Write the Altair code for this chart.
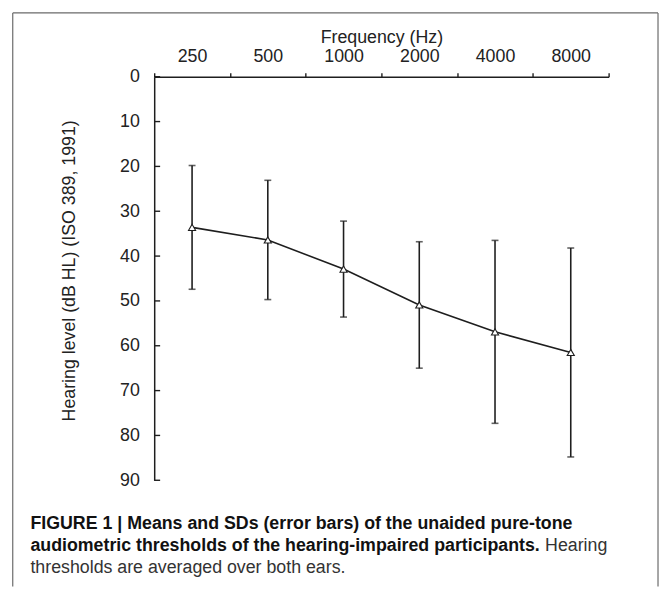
import altair as alt
import pandas as pd

# ---- data ----
freqs = ["250", "500", "1000", "2000", "4000", "8000"]
means = [33.6, 36.4, 42.9, 50.9, 56.9, 61.5]
sds = [13.8, 13.3, 10.7, 14.1, 20.4, 23.3]
y_tick_values = [0, 10, 20, 30, 40, 50, 60, 70, 80, 90]

x_title = "Frequency (Hz)"
y_title = "Hearing level (dB HL) (ISO 389, 1991)"
caption_bold_1 = "FIGURE 1 | Means and SDs (error bars) of the unaided pure-tone"
caption_bold_2 = "audiometric thresholds of the hearing-impaired participants."
caption_reg_2 = "Hearing"
caption_reg_3 = "thresholds are averaged over both ears."

df = pd.DataFrame({"freq": freqs, "mean": means, "sd": sds})
df["lo"] = df["mean"] - df["sd"]
df["hi"] = df["mean"] + df["sd"]
ticks_df = pd.DataFrame({"v": y_tick_values})
one = pd.DataFrame({"k": [0]})

INK = "#1e1e1e"
FONT = "Liberation Sans"
X_RANGE = [148, 608]
Y_RANGE = [66, 474.5]

x_enc = alt.X(
    "freq:N",
    sort=freqs,
    scale=alt.Scale(type="band", range=X_RANGE, paddingInner=0, paddingOuter=0),
    axis=alt.Axis(
        orient="top", offset=-66, title=x_title, tickBand="extent",
        tickSize=4, labelPadding=11, labelBaseline="alphabetic", labelAngle=0,
        titleY=-34.5, titleBaseline="alphabetic", titleFontWeight="normal",
        grid=False,
    ),
)
y_scale = alt.Scale(domain=[0, 90], range=Y_RANGE, nice=False, zero=False)
y_axis = alt.Axis(
    orient="left", offset=-148, values=y_tick_values, ticks=False,
    labelPadding=15, title=y_title, titleX=-86, titleY=262, titleAngle=270,
    titleAlign="center", titleBaseline="middle", titleFontWeight="normal",
    grid=False,
)

base = alt.Chart(df)
bars = base.mark_rule(color=INK, strokeWidth=1.6).encode(
    x=x_enc, y=alt.Y("lo:Q", scale=y_scale, axis=y_axis), y2="hi:Q"
)
cap_lo = base.mark_tick(color=INK, size=7, thickness=1.6, orient="horizontal").encode(
    x=x_enc, y=alt.Y("lo:Q", scale=y_scale, axis=y_axis)
)
cap_hi = base.mark_tick(color=INK, size=7, thickness=1.6, orient="horizontal").encode(
    x=x_enc, y=alt.Y("hi:Q", scale=y_scale, axis=y_axis)
)
line = base.mark_line(color=INK, strokeWidth=1.6).encode(
    x=x_enc, y=alt.Y("mean:Q", scale=y_scale, axis=y_axis)
)
pts = base.mark_point(
    shape="triangle-up", filled=True, fill="white", stroke=INK,
    strokeWidth=1.1, size=52, opacity=1,
).encode(x=x_enc, y=alt.Y("mean:Q", scale=y_scale, axis=y_axis))

# inward tick marks of the y axis
yticks = alt.Chart(ticks_df).mark_rule(color=INK, strokeWidth=1.4).encode(
    y=alt.Y("v:Q", scale=y_scale, axis=y_axis),
    x=alt.value(148), x2=alt.value(154),
)

# figure frame (left, top, right)
FRAME = "#6a6a6a"
f_left = alt.Chart(one).mark_rule(color=FRAME, strokeWidth=1.2).encode(
    x=alt.value(4.8), y=alt.value(1.4), y2=alt.value(582)
)
f_top = alt.Chart(one).mark_rule(color=FRAME, strokeWidth=1.2).encode(
    x=alt.value(4.8), x2=alt.value(658), y=alt.value(1.4)
)
f_right = alt.Chart(one).mark_rule(color=FRAME, strokeWidth=1.2).encode(
    x=alt.value(658), y=alt.value(1.4), y2=alt.value(582)
)

CAP_X = 22.7
cap_font = dict(font=FONT, fontSize=18, align="left", baseline="middle", color="#111")
c1 = alt.Chart(one).mark_text(fontWeight="bold", **cap_font).encode(
    x=alt.value(CAP_X), y=alt.value(519), text=alt.value(caption_bold_1)
)
c2 = alt.Chart(one).mark_text(fontWeight="bold", **cap_font).encode(
    x=alt.value(CAP_X), y=alt.value(541), text=alt.value(caption_bold_2)
)
c2b = alt.Chart(one).mark_text(fontWeight="normal", **{**cap_font, "color": "#333"}).encode(
    x=alt.value(CAP_X + 521), y=alt.value(541), text=alt.value(caption_reg_2)
)
c3 = alt.Chart(one).mark_text(fontWeight="normal", **{**cap_font, "color": "#333"}).encode(
    x=alt.value(CAP_X), y=alt.value(563), text=alt.value(caption_reg_3)
)

chart = alt.layer(
    bars, cap_lo, cap_hi, line, pts, yticks,
    f_left, f_top, f_right, c1, c2, c2b, c3,
).properties(
    width=659, height=582,
    autosize=alt.AutoSizeParams(type="none"),
    padding=0,
    background="white",
).configure_view(stroke=None).configure_axis(
    labelFont=FONT, titleFont=FONT, labelFontSize=18, titleFontSize=18,
    labelColor="#222", titleColor="#222", domainColor=INK, tickColor=INK,
    domainWidth=1.5, tickWidth=1.4,
)

chart.save("out.html", embed_options={"renderer": "svg", "actions": False})
